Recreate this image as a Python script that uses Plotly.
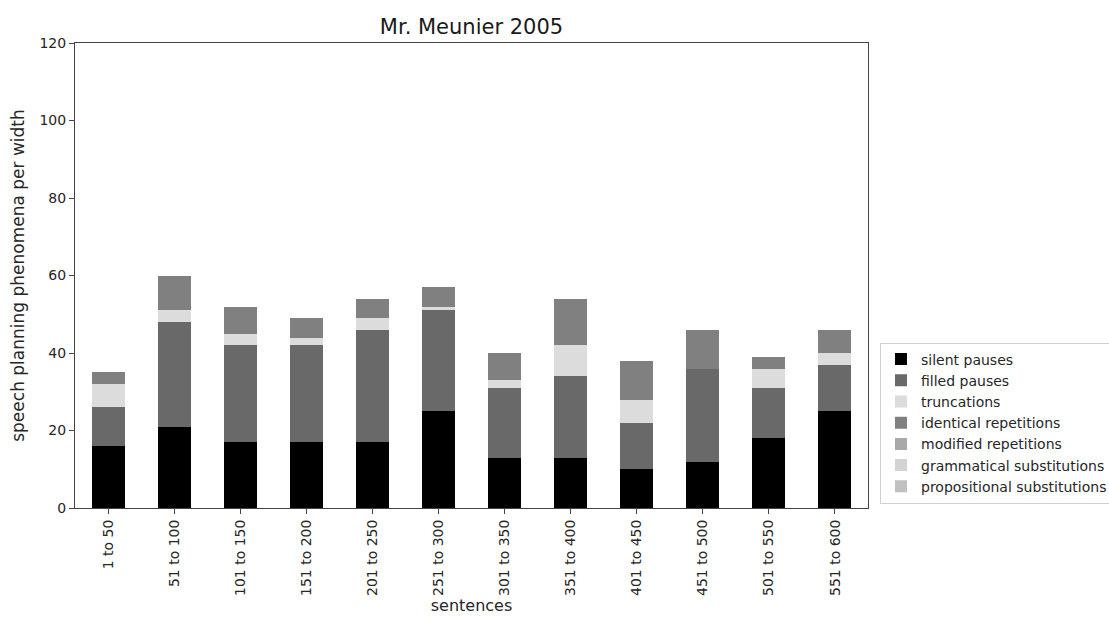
import plotly.graph_objects as go

# sentence ranges on the x axis
categories = ["1 to 50", "51 to 100", "101 to 150", "151 to 200", "201 to 250",
              "251 to 300", "301 to 350", "351 to 400", "401 to 450", "451 to 500",
              "501 to 550", "551 to 600"]

# counts for each phenomenon per sentence range
silent_pauses = [16, 21, 17, 17, 17, 25, 13, 13, 10, 12, 18, 25]
filled_pauses = [10, 27, 25, 25, 29, 26, 18, 21, 12, 24, 13, 12]
truncations = [6, 3, 3, 2, 3, 1, 2, 8, 6, 0, 5, 3]
identical_repetitions = [3, 9, 7, 5, 5, 5, 7, 12, 10, 10, 3, 6]
modified_repetitions = [0] * 12
grammatical_substitutions = [0] * 12
propositional_substitutions = [0] * 12

y_ticks = [0, 20, 40, 60, 80, 100, 120]

series = [
    ("silent pauses", silent_pauses, "#000000"),
    ("filled pauses", filled_pauses, "#696969"),
    ("truncations", truncations, "#dcdcdc"),
    ("identical repetitions", identical_repetitions, "#808080"),
    ("modified repetitions", modified_repetitions, "#a9a9a9"),
    ("grammatical substitutions", grammatical_substitutions, "#d3d3d3"),
    ("propositional substitutions", propositional_substitutions, "#c0c0c0"),
]

font = "DejaVu Sans, Verdana, sans-serif"
text_color = "#262626"

# plot area in pixels
W, H = 1109, 617
left, right, top, bottom = 75, 868, 43, 508

fig = go.Figure()
for name, vals, color in series:
    fig.add_trace(go.Bar(
        name=name, x=categories, y=vals,
        marker=dict(color=color, line=dict(width=0)),
        width=0.5,
    ))

fig.update_layout(
    barmode="stack",
    width=W, height=H,
    margin=dict(l=left, r=W - right, t=top, b=H - bottom, autoexpand=False),
    paper_bgcolor="white", plot_bgcolor="white",
    font=dict(family=font, size=14, color=text_color),
    title=dict(text="Mr. Meunier 2005", x=(left + right) / 2 / W, xanchor="center",
               y=1 - 27 / H, yanchor="middle",
               font=dict(size=21, color="#1a1a1a", family=font)),
    showlegend=True,
    legend=dict(
        x=(880 - left) / (right - left), xanchor="left",
        y=(bottom - 423) / (bottom - top), yanchor="middle",
        bordercolor="#d0d0d0", borderwidth=1, bgcolor="white",
        font=dict(size=14, color=text_color, family=font),
        traceorder="normal", itemwidth=30, tracegroupgap=0,
    ),
)

fig.update_xaxes(
    showline=True, linecolor="#444444", linewidth=1, mirror=True,
    ticks="outside", ticklen=5, tickcolor="#444444",
    tickangle=-90, showgrid=False,
    tickfont=dict(size=14, color=text_color),
    title=dict(text="sentences", font=dict(size=16, color=text_color), standoff=4),
)
fig.update_yaxes(
    range=[0, 120], tickvals=y_ticks,
    showline=True, linecolor="#444444", linewidth=1, mirror=True,
    ticks="outside", ticklen=5, tickcolor="#444444",
    showgrid=False, zeroline=False,
    tickfont=dict(size=14, color=text_color),
    title=dict(text="speech planning phenomena per width",
               font=dict(size=17, color=text_color), standoff=10),
)

fig.write_html("out.html")
